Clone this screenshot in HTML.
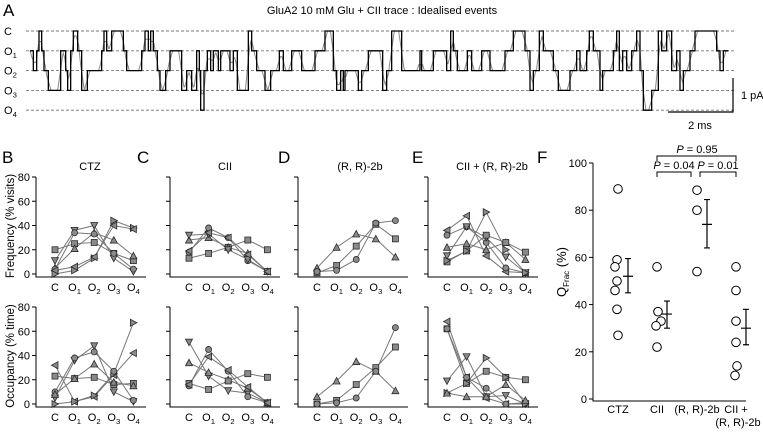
<!DOCTYPE html>
<html><head><meta charset="utf-8"><style>
html,body{margin:0;padding:0;background:#fff}
svg{display:block;font-family:"Liberation Sans",Arial,sans-serif}
</style></head><body>
<svg id="fig" width="763" height="436" viewBox="0 0 763 436"></svg>
<script>
// ---------- DATA ----------
// Panel A: idealised event end times (10 µs bins) and levels (0=C,1=O1..4=O4)
const traceStart = 90;
const eventEnds1 = [100,110,117,125,132,145,182,197,203,212,220,233,245,262,305,312,320,335,370,380,425,435,445,452,460,472,480,497,510,545,560,575,590,598,602,612,622,632,640,655,662,690,700,712,745,755,770,795,812,838,850,875,905,945,975,1000,1010,1022,1030,1035,1075,1085,1105,1140];
const eventLevels1 = [1,2,1,0,1,2,3,1,2,3,1,0,1,3,2,1,0,1,0,1,2,1,0,1,0,1,2,3,2,1,3,2,3,1,2,4,2,1,2,1,2,1,2,1,3,0,1,2,3,2,1,2,1,2,1,0,2,3,2,3,2,3,2,1];
const eventEnds2 = [8,20,35,65,120,125,160,200,212,220,232,262,275,305,330,375,400,435,450,460,478,490,520,535,570,590,600,620,628,640,660,668,700,710,718,728,740,755,770,780,790,815,835,845,860,875,890,900,910,930,945,1010,1020,1030,1045];
const eventLevels2 = [1,3,2,0,2,1,2,1,2,0,1,2,1,2,1,2,1,0,1,3,2,0,1,2,3,2,1,2,1,0,1,3,2,1,0,2,1,2,1,0,2,4,3,0,1,0,2,1,3,2,1,0,1,2,1];
const levelNames = ["C","O1","O2","O3","O4"];

// Panels B–E
const categories = ["C","O1","O2","O3","O4"];
const panelTitles = ["CTZ","CII","(R, R)-2b","CII + (R, R)-2b"];
const panelLetters = ["B","C","D","E"];
const freqB = [["sq",[20,25,26,17,11]],["td",[11,36,40,13,2]],["tu",[5,21,34,28,15]],["ci",[4,34,33,17,4]],["tr",[0,3,13,44,38]],["tl",[3,6,14,40,37]]];
const freqC = [["sq",[13,17,22,28,20]],["ci",[18,38,30,11,2]],["tu",[28,30,22,17,2]],["td",[32,33,20,12,2]],["tl",[19,34,30,16,2]]];
const freqD = [["tu",[5,22,33,29,14]],["sq",[1,7,23,41,29]],["ci",[2,3,12,42,44]]];
const freqE = [["tl",[36,48,15,2,1]],["ci",[32,39,26,5,1]],["tu",[22,25,20,26,12]],["td",[15,39,30,14,1]],["sq",[10,19,32,26,18]],["tr",[11,19,51,20,1]]];
const occB = [["tl",[32,2,6,24,42]],["tr",[0,2,7,25,67]],["sq",[23,21,22,16,17]],["td",[5,36,48,10,2]],["ci",[10,38,43,27,3]],["tu",[8,21,33,18,15]]];
const occC = [["td",[51,23,11,9,1]],["tu",[34,26,20,13,1]],["ci",[15,45,27,6,1]],["sq",[17,12,19,25,22]],["tl",[16,39,28,14,1]]];
const occD = [["tu",[6,19,35,27,11]],["sq",[0,3,16,30,47]],["ci",[0,1,5,27,63]]];
const occE = [["tl",[68,22,5,0,0]],["sq",[62,17,27,22,20]],["ci",[62,22,13,0,1]],["td",[19,39,6,7,0]],["tr",[9,17,38,22,0]],["tu",[9,6,6,16,3]]];
const yTicks = [0,20,40,60,80];

// Panel F
const fCategories = ["CTZ","CII","(R, R)-2b","CII +"];
const fPoints = [[89,59,56,50,46,38,27],[56,37,33,31,22],[88.5,80,54],[56,46,33,24,14,10]];
const fMeans = [52,36,74,30];
const fErrLow = [45,30,64,23];
const fErrHigh = [59.5,41.5,84.5,38];
const fTicks = [0,20,40,60,80,100];
const pLabels = ["P = 0.95","P = 0.04","P = 0.01"];

// ---------- DRAW ----------
const NS="http://www.w3.org/2000/svg";
const svg=document.getElementById('fig');
function mk(tag,attrs,parent){const e=document.createElementNS(NS,tag);for(const k in attrs)e.setAttribute(k,attrs[k]);(parent||svg).appendChild(e);return e;}
function txt(str,x,y,size,anchor,parent){const t=mk('text',{x:x,y:y,'font-size':size,'text-anchor':anchor||'start',fill:'#000'},parent);t.textContent=str;return t;}
function labelO(name,x,y,size,anchor,parent){const t=mk('text',{x:x,y:y,'font-size':size,'text-anchor':anchor,fill:'#000'},parent);
  if(name.length>1){const a=mk('tspan',{},t);a.textContent=name[0];const b=mk('tspan',{dy:3,'font-size':size*0.7},t);b.textContent=name.slice(1);} else t.textContent=name; return t;}

// Panel A
const gA=mk('g',{});


let tA=txt('A',3,16,17,'start',gA);


let ttl=txt('GluA2 10 mM Glu + CII trace : Idealised events',382,14,11,'middle',gA);


const levelY=l=>31+l*19.8;
const tx=t=>30+(t-traceStart)/3;
levelNames.forEach((n,i)=>{
  const ln=mk('line',{x1:26,x2:735,y1:levelY(i),y2:levelY(i),stroke:'#777','stroke-width':0.9,'stroke-dasharray':'3,2'},gA);
  
  
  const lb=labelO(n,4,levelY(i)+4,11,'start',gA);
  
  
});
const ends=eventEnds1.concat(eventEnds2.map(v=>v+1140));
const levels=eventLevels1.concat(eventLevels2);
let d='', prev=traceStart;
const samples=[];
ends.forEach((e,i)=>{const y=levelY(levels[i]);
  d+=(i===0?'M':'L')+tx(prev)+','+y+'L'+tx(e)+','+y;
  for(let t=prev;t<e;t++)samples.push(y);
  prev=e;});
let g='';const w=8;
for(let i=0;i<samples.length;i+=2){let s=0,c=0;for(let j=i-w;j<=i+w;j++){if(j>=0&&j<samples.length){s+=samples[j];c++;}}
  g+=(i===0?'M':'L')+tx(traceStart+i).toFixed(1)+','+(s/c).toFixed(1);}
const gp=mk('path',{d:g,fill:'none',stroke:'#888','stroke-width':1},gA);


const ip=mk('path',{d:d,fill:'none',stroke:'#000','stroke-width':1.3},gA);


const sb=mk('path',{d:'M668,112L733,112L733,78',fill:'none',stroke:'#000','stroke-width':1.2},gA);


let s1=txt('1 pA',741,99,11,'start',gA);


let s2=txt('2 ms',700,129,11,'middle',gA);



// Panels B-E
const axisX=[36,170,298,428];
const freqAll=[freqB,freqC,freqD,freqE], occAll=[occB,occC,occD,occE];
const catX=(p,i)=>axisX[p]+19+i*19.6;
function marker(type,x,y,parent){
  const st={fill:'#8a8a8a',stroke:'#2a2a2a','stroke-width':0.8};const s=3;let e;
  if(type==='sq') e=mk('rect',Object.assign({x:x-s,y:y-s,width:2*s,height:2*s},st),parent);
  else if(type==='ci') e=mk('circle',Object.assign({cx:x,cy:y,r:s},st),parent);
  else {let p;
    if(type==='tu')p=[[x,y-s-0.5],[x+s+0.5,y+s],[x-s-0.5,y+s]];
    if(type==='td')p=[[x,y+s+0.5],[x+s+0.5,y-s],[x-s-0.5,y-s]];
    if(type==='tl')p=[[x-s-0.5,y],[x+s,y-s-0.5],[x+s,y+s+0.5]];
    if(type==='tr')p=[[x+s+0.5,y],[x-s,y-s-0.5],[x-s,y+s+0.5]];
    e=mk('polygon',Object.assign({points:p.map(q=>q.join(',')).join(' ')},st),parent);}
  return e;}
function drawPanel(p,series,y0,kind){
  const top=y0-97, yv=v=>y0-v*(97/80);
  const grp=mk('g',{});
  
  
  const ax=mk('path',{d:'M'+axisX[p]+','+top+'L'+axisX[p]+','+(y0+3)+'L'+(axisX[p]+110)+','+(y0+3),fill:'none',stroke:'#000','stroke-width':1},grp);
  
  
  yTicks.forEach(v=>{mk('line',{x1:axisX[p]-4,x2:axisX[p],y1:yv(v),y2:yv(v),stroke:'#000','stroke-width':1},grp);
    if(p===0){const t=txt(String(v),axisX[p]-6,yv(v)+4,11,'end',grp);
      
      }});
  categories.forEach((c,i)=>{const t=labelO(c,catX(p,i),y0+17,11,'middle',grp);
    
    });
  series.forEach((s,k)=>{
    const pts=s[1].map((v,i)=>[catX(p,i),yv(v)]);
    const l=mk('polyline',{points:pts.map(q=>q.join(',')).join(' '),fill:'none',stroke:'#777','stroke-width':1},grp);
    
    
  });
  series.forEach((s,k)=>{s[1].forEach((v,i)=>{const m=marker(s[0],catX(p,i),yv(v),grp);
    
    });});
}
const letterX=[2,137,278,412], titleX=[90,225,360,492];
for(let p=0;p<4;p++){
  const L=txt(panelLetters[p],letterX[p],163,17,'start');
  
  
  const T=txt(panelTitles[p],titleX[p],170,11,'middle');
  
  
  drawPanel(p,freqAll[p],274,'frequency');
  drawPanel(p,occAll[p],404,'occupancy');
}
let yt1=mk('text',{x:0,y:0,'font-size':11.5,'text-anchor':'middle',transform:'translate(14,226) rotate(-90)'});
yt1.textContent='Frequency (% visits)';


let yt2=mk('text',{x:0,y:0,'font-size':11.5,'text-anchor':'middle',transform:'translate(14,356) rotate(-90)'});
yt2.textContent='Occupancy (% time)';



// Panel F
const gF=mk('g',{});


const LF=txt('F',537,163,17,'start',gF);


const fAx=593, yF=v=>399-v*2.36, fx=[618,657,697,736];
const axF=mk('path',{d:'M'+fAx+','+yF(100)+'L'+fAx+',401L746,401',fill:'none',stroke:'#000','stroke-width':1},gF);


fTicks.forEach(v=>{mk('line',{x1:fAx-4,x2:fAx,y1:yF(v),y2:yF(v),stroke:'#000'},gF);
  const t=txt(String(v),fAx-6,yF(v)+4,11,'end',gF);
  
  });
fCategories.forEach((c,i)=>{const t=txt(c,fx[i],413,11,'middle',gF);
  
  });
let c2=txt('(R, R)-2b',738,426,11,'middle',gF);


const jit=[[0,-1,-3,-1,-3,-1,0],[0,1,4,-1,0],[0,0,0],[0,0,0,0,1,-1]];
fPoints.forEach((arr,i)=>{arr.forEach((v,k)=>{const c=mk('circle',{cx:fx[i]+jit[i][k],cy:yF(v),r:4.3,fill:'#fff',stroke:'#000','stroke-width':1},gF);
  
  });
  const mx=fx[i]+10;
  const e=mk('path',{d:'M'+mx+','+yF(fErrLow[i])+'L'+mx+','+yF(fErrHigh[i])+'M'+(mx-3)+','+yF(fErrLow[i])+'L'+(mx+3)+','+yF(fErrLow[i])+'M'+(mx-3)+','+yF(fErrHigh[i])+'L'+(mx+3)+','+yF(fErrHigh[i])+'M'+(mx-5)+','+yF(fMeans[i])+'L'+(mx+5)+','+yF(fMeans[i]),fill:'none',stroke:'#000','stroke-width':1.2},gF);
  
  });
const br=[[657,736,156,697],[657,691,172,674],[700,736,172,718]];
br.forEach((b,i)=>{const p=mk('path',{d:'M'+b[0]+','+(b[2]+5)+'L'+b[0]+','+b[2]+'L'+b[1]+','+b[2]+'L'+b[1]+','+(b[2]+5),fill:'none',stroke:'#000'},gF);
  
  
  const t=mk('text',{x:b[3],y:b[2]-3,'font-size':11,'text-anchor':'middle'},gF);
  const a=mk('tspan',{'font-style':'italic'},t);a.textContent='P';
  const r=mk('tspan',{},t);r.textContent=pLabels[i].slice(1);
  
  });
const yf=mk('text',{x:0,y:0,'font-size':13,'text-anchor':'middle',transform:'translate(566,272) rotate(-90)'},gF);
const q1=mk('tspan',{},yf);q1.textContent='Q';
const q2=mk('tspan',{dy:3,'font-size':8},yf);q2.textContent='Frac';
const q3=mk('tspan',{dy:-3},yf);q3.textContent=' (%)';


</script>
</body></html>
